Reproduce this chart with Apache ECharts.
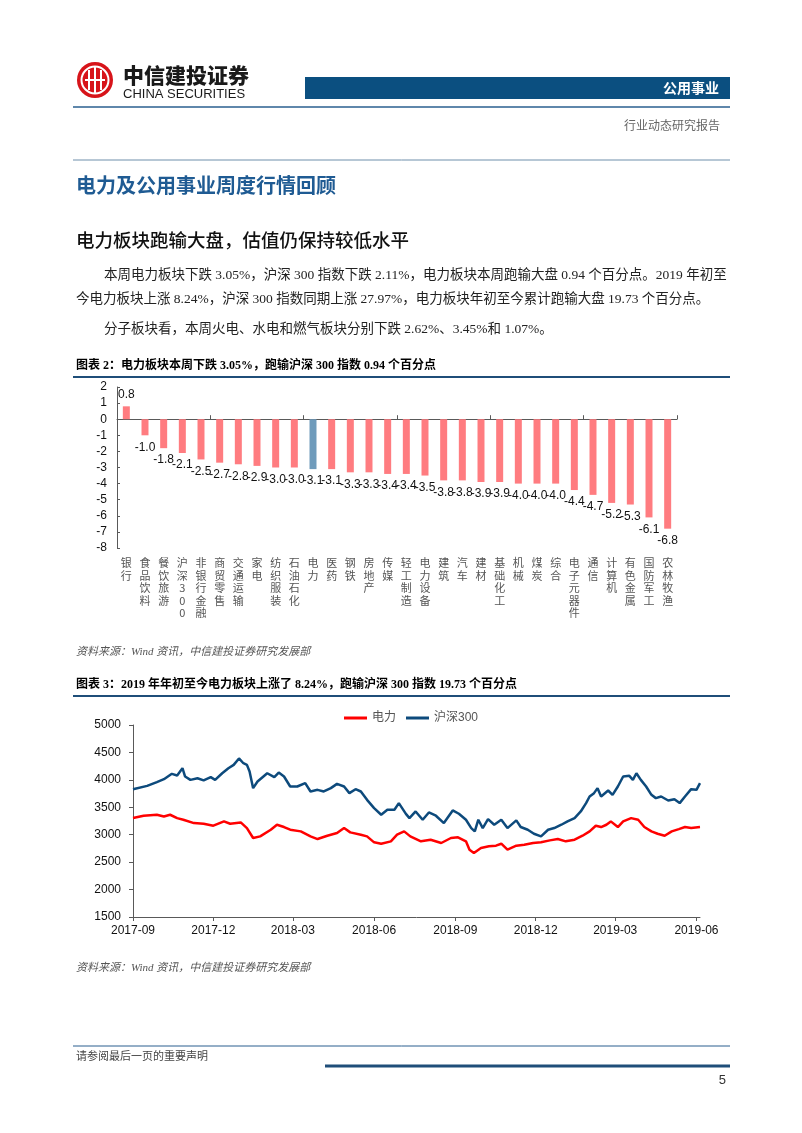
<!DOCTYPE html>
<html><head><meta charset="utf-8">
<script src="https://cdn.jsdelivr.net/npm/echarts@6/dist/echarts.min.js"></script>
<style>html,body{margin:0;padding:0;background:#fff}#c{width:802px;height:1133px}</style>
</head><body><div id="c"></div>
<script>
// ---------- Figure 2: weekly change by sector (%) ----------
const categories = ['银行','食品饮料','餐饮旅游','沪深300','非银行金融','商贸零售','交通运输','家电','纺织服装','石油石化','电力','医药','钢铁','房地产','传媒','轻工制造','电力设备','建筑','汽车','建材','基础化工','机械','煤炭','综合','电子元器件','通信','计算机','有色金属','国防军工','农林牧渔'];
const weeklyChange = [0.8,-1.0,-1.8,-2.1,-2.5,-2.7,-2.8,-2.9,-3.0,-3.0,-3.1,-3.1,-3.3,-3.3,-3.4,-3.4,-3.5,-3.8,-3.8,-3.9,-3.9,-4.0,-4.0,-4.0,-4.4,-4.7,-5.2,-5.3,-6.1,-6.8];
const highlightCategory = '电力';

// ---------- Figure 3: index levels ----------
const lineTickLabels = ['2017-09','2017-12','2018-03','2018-06','2018-09','2018-12','2019-03','2019-06'];
const lineStart = '2017-09-01';
const lineEnd = '2019-06-05';
const powerDates = ['2017-09-01','2017-09-13','2017-09-28','2017-10-06','2017-10-13','2017-10-21','2017-10-28','2017-11-09','2017-11-20','2017-12-01','2017-12-13','2017-12-20','2018-01-01','2018-01-08','2018-01-15','2018-01-23','2018-02-04','2018-02-11','2018-02-19','2018-02-26','2018-03-10','2018-03-21','2018-03-29','2018-04-09','2018-04-20','2018-04-28','2018-05-05','2018-05-17','2018-05-24','2018-06-01','2018-06-09','2018-06-20','2018-06-27','2018-07-05','2018-07-12','2018-07-24','2018-08-04','2018-08-16','2018-08-27','2018-09-04','2018-09-13','2018-09-17','2018-09-22','2018-09-30','2018-10-09','2018-10-17','2018-10-23','2018-10-30','2018-11-09','2018-11-18','2018-11-28','2018-12-07','2018-12-17','2018-12-26','2019-01-04','2019-01-14','2019-01-23','2019-01-31','2019-02-07','2019-02-13','2019-02-19','2019-02-24','2019-03-04','2019-03-10','2019-03-19','2019-03-27','2019-04-03','2019-04-11','2019-04-18','2019-04-26','2019-05-04','2019-05-12','2019-05-19','2019-05-26','2019-06-05'];
const powerValues = [3303,3346,3364,3333,3364,3303,3273,3212,3200,3164,3243,3200,3224,3121,2940,2970,3091,3182,3140,3091,3061,2970,2921,2982,3030,3121,3043,3000,2970,2861,2836,2879,3000,3061,2970,2879,2909,2849,2940,2952,2879,2727,2667,2758,2788,2800,2836,2727,2800,2818,2849,2861,2897,2921,2879,2909,2982,3061,3164,3140,3182,3243,3140,3243,3303,3273,3140,3061,3018,2982,3061,3103,3140,3121,3140];
const hs300Dates = ['2017-09-01','2017-09-17','2017-09-28','2017-10-06','2017-10-15','2017-10-21','2017-10-27','2017-10-30','2017-11-05','2017-11-13','2017-11-20','2017-11-28','2017-12-03','2017-12-11','2017-12-18','2017-12-24','2017-12-30','2018-01-04','2018-01-08','2018-01-11','2018-01-15','2018-01-20','2018-01-31','2018-02-08','2018-02-13','2018-02-19','2018-02-26','2018-03-06','2018-03-15','2018-03-21','2018-03-29','2018-04-05','2018-04-13','2018-04-20','2018-04-28','2018-05-04','2018-05-11','2018-05-17','2018-05-24','2018-06-01','2018-06-09','2018-06-16','2018-06-24','2018-06-29','2018-07-01','2018-07-07','2018-07-11','2018-07-18','2018-07-26','2018-08-02','2018-08-10','2018-08-19','2018-08-29','2018-09-05','2018-09-13','2018-09-19','2018-09-23','2018-09-27','2018-10-02','2018-10-08','2018-10-15','2018-10-23','2018-10-30','2018-11-09','2018-11-14','2018-11-22','2018-11-29','2018-12-07','2018-12-15','2018-12-22','2018-12-30','2019-01-06','2019-01-14','2019-01-21','2019-01-27','2019-01-31','2019-02-05','2019-02-09','2019-02-13','2019-02-21','2019-02-26','2019-03-04','2019-03-10','2019-03-17','2019-03-21','2019-03-25','2019-03-30','2019-04-05','2019-04-11','2019-04-16','2019-04-22','2019-04-30','2019-05-07','2019-05-13','2019-05-19','2019-05-26','2019-06-01','2019-06-05'];
const hs300Values = [3830,3890,3960,4012,4110,4080,4212,4061,4000,4030,3990,4050,4000,4121,4212,4273,4390,4303,4273,4152,3849,3970,4121,4049,4133,4061,3879,3879,3940,3788,3818,3788,3849,3927,3879,3758,3830,3788,3636,3485,3364,3455,3455,3576,3546,3380,3303,3424,3273,3406,3346,3212,3443,3382,3273,3121,3061,3273,3121,3285,3182,3273,3121,3261,3140,3091,3018,2970,3091,3121,3182,3243,3303,3424,3576,3697,3758,3849,3697,3806,3727,3879,4061,4073,4000,4121,4000,3879,3727,3667,3697,3624,3648,3576,3697,3830,3818,3940];

// ---------- page text ----------
const paraLines = [
  '本周电力板块下跌 3.05%，沪深 300 指数下跌 2.11%，电力板块本周跑输大盘 0.94 个百分点。2019 年初至',
  '今电力板块上涨 8.24%，沪深 300 指数同期上涨 27.97%，电力板块年初至今累计跑输大盘 19.73 个百分点。',
  '分子板块看，本周火电、水电和燃气板块分别下跌 2.62%、3.45%和 1.07%。'
];

function toTime(s){ const p=s.split('-').map(Number); return +new Date(p[0],p[1]-1,p[2]||1); }
function pairs(ds,vs){ return ds.map((d,i)=>[toTime(d),vs[i]]); }

const C_BLUE='#0b4f80', C_LINE='#1f4e79';
const SERIF='"Liberation Serif","Noto Sans CJK SC"';
const SANS='"Noto Sans CJK SC"';

function txt(x,y,text,font,fill,align){
  return {type:'text',x:x,y:y,silent:true,style:{text:text,font:font,fill:fill||'#000',
    align:align||'left',textAlign:align||'left',verticalAlign:'middle',textVerticalAlign:'middle'}};
}
function hline(x1,x2,y,color,w){
  return {type:'line',silent:true,shape:{x1:x1,y1:y,x2:x2,y2:y},style:{stroke:color,lineWidth:w}};
}

const graphics = [
  {type:'circle',silent:true,shape:{cx:95,cy:80,r:18},style:{fill:'#d7141a'}},
  {type:'circle',silent:true,shape:{cx:95,cy:80,r:13.5},style:{fill:'none',stroke:'#fff',lineWidth:2}},
  {type:'rect',silent:true,shape:{x:88,y:70,width:2,height:20},style:{fill:'#fff'}},
  {type:'rect',silent:true,shape:{x:94,y:67,width:2,height:26},style:{fill:'#fff'}},
  {type:'rect',silent:true,shape:{x:100,y:70,width:2,height:20},style:{fill:'#fff'}},
  {type:'rect',silent:true,shape:{x:85,y:79,width:20,height:2},style:{fill:'#fff'}},
  txt(123,75,'中信建投证券','900 21px '+SANS,'#1a1a1a'),
  txt(123,94,'CHINA SECURITIES','13px "Liberation Sans"','#1a1a1a'),
  {type:'rect',silent:true,shape:{x:305,y:77,width:425,height:22},style:{fill:C_BLUE}},
  txt(719,88,'公用事业','bold 14px '+SANS,'#fff','right'),
  hline(73,730,107,'#2a5f8f',1.5),
  txt(720,127,'行业动态研究报告','12px '+SERIF,'#666','right'),
  hline(73,730,160,'#6f8fab',1),
  txt(76,185,'电力及公用事业周度行情回顾','bold 20px '+SANS,'#1f5b93'),
  txt(76,240,'电力板块跑输大盘，估值仍保持较低水平','500 18.5px '+SANS,'#111'),
  txt(104,275,paraLines[0],'13.5px '+SERIF,'#222'),
  txt(76,299,paraLines[1],'13.5px '+SERIF,'#222'),
  txt(104,329,paraLines[2],'13.5px '+SERIF,'#222'),
  txt(76,366,'图表 2：电力板块本周下跌 3.05%，跑输沪深 300 指数 0.94 个百分点','bold 12px '+SERIF,'#000'),
  hline(73,730,377,C_LINE,2),
  txt(76,652,'资料来源：Wind 资讯，中信建投证券研究发展部','italic 11px '+SERIF,'#555'),
  txt(76,685,'图表 3：2019 年年初至今电力板块上涨了 8.24%，跑输沪深 300 指数 19.73 个百分点','bold 12px '+SERIF,'#000'),
  hline(73,730,696,C_LINE,2),
  txt(76,968,'资料来源：Wind 资讯，中信建投证券研究发展部','italic 11px '+SERIF,'#555'),
  hline(73,730,1046,'#2a5f8f',1),
  txt(76,1057,'请参阅最后一页的重要声明','11px '+SERIF,'#444'),
  hline(325,730,1066,C_LINE,3),
  txt(726,1080,'5','13px "Liberation Sans"','#333','right')
];

const barData = weeklyChange.map(v=>({value:v,label:{position: v>=0?'top':'bottom'}}));
const tickTimes = lineTickLabels.map(toTime);
const AX='#595959';

const option = {
  animation:false,
  backgroundColor:'#fff',
  textStyle:{fontFamily:'"Liberation Sans", "Noto Sans CJK SC"'},
  graphic:{elements:graphics},
  legend:{
    data:['电力','沪深300'], left:339, top:707, icon:'rect', itemWidth:23, itemHeight:3, itemGap:10,
    textStyle:{fontSize:12,color:'#555',fontFamily:'"Liberation Sans","Noto Sans CJK SC"'}
  },
  grid:[
    {left:117, top:387, width:560, height:161, containLabel:false, outerBoundsMode:'none'},
    {left:133, top:725, width:567, height:192, containLabel:false, outerBoundsMode:'none'}
  ],
  xAxis:[
    {type:'category', gridIndex:0, data:categories, position:'bottom',
     axisLine:{show:true,onZero:true,lineStyle:{color:AX,width:1}},
     axisTick:{show:true,inside:true,length:4,alignWithLabel:false,lineStyle:{color:AX}},
     axisLabel:{show:false}, splitLine:{show:false}},
    {type:'category', gridIndex:0, data:categories, position:'bottom',
     axisLine:{show:false,onZero:false}, axisTick:{show:false},
     axisLabel:{show:true,interval:0,margin:9,fontSize:11,lineHeight:12.5,color:'#555',
       fontFamily:SANS, formatter:v=>v.split('').join('\n')}, splitLine:{show:false}},
    {type:'value', gridIndex:1, min:toTime(lineStart), max:toTime(lineEnd), scale:true,
     axisLine:{show:true,onZero:false,lineStyle:{color:AX,width:1}},
     axisTick:{show:true,inside:false,length:4,lineStyle:{color:AX},customValues:tickTimes},
     axisLabel:{show:true,margin:8,fontSize:12,color:'#111',hideOverlap:false,
       showMinLabel:true,showMaxLabel:true,customValues:tickTimes,
       formatter:function(v){const d=new Date(v);return d.getFullYear()+'-'+String(d.getMonth()+1).padStart(2,'0');}},
     splitLine:{show:false}}
  ],
  yAxis:[
    {type:'value', gridIndex:0, min:-8, max:2, interval:1,
     axisLine:{show:true,lineStyle:{color:AX,width:1}},
     axisTick:{show:true,inside:true,length:3,lineStyle:{color:AX}},
     axisLabel:{fontSize:12,color:'#111',margin:10}, splitLine:{show:false}},
    {type:'value', gridIndex:1, min:1500, max:5000, interval:500,
     axisLine:{show:true,lineStyle:{color:AX,width:1}},
     axisTick:{show:true,inside:false,length:4,lineStyle:{color:AX}},
     axisLabel:{fontSize:12,color:'#111',margin:12,formatter:v=>String(v)}, splitLine:{show:false}}
  ],
  series:[
    {type:'bar', xAxisIndex:0, yAxisIndex:0, data:barData, barWidth:7,
     itemStyle:{color:p=>p.name===highlightCategory?'#6f9bbb':'#ff7c80'},
     label:{show:true,distance:6,fontSize:12,color:'#111',formatter:p=>p.value.toFixed(1)}},
    {type:'line', name:'电力', xAxisIndex:2, yAxisIndex:1, data:pairs(powerDates,powerValues),
     showSymbol:false, symbol:'none', lineStyle:{color:'#ff0000',width:2.5}, itemStyle:{color:'#ff0000'}},
    {type:'line', name:'沪深300', xAxisIndex:2, yAxisIndex:1, data:pairs(hs300Dates,hs300Values),
     showSymbol:false, symbol:'none', lineStyle:{color:'#0d4a7c',width:2.5}, itemStyle:{color:'#0d4a7c'}}
  ]
};
const chart = echarts.init(document.getElementById('c'), null, {renderer:'canvas'});
chart.setOption(option);
</script></body></html>
